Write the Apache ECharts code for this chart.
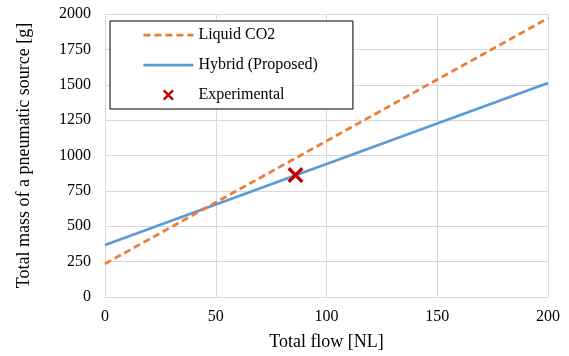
<!DOCTYPE html>
<html><head><meta charset="utf-8">
<script src="https://cdn.jsdelivr.net/npm/echarts@6/dist/echarts.min.js"></script>
<style>html,body{margin:0;padding:0;background:#fff}#c{width:569px;height:356px}</style>
</head><body><div id="c"></div>
<script>
var xTicks = [0, 50, 100, 150, 200];
var yTicks = [0, 250, 500, 750, 1000, 1250, 1500, 1750, 2000];
var liquidCO2 = [[0, 235], [200, 1970]];
var hybrid = [[0, 367], [200, 1512]];
var experimental = [[86, 862]];
var seriesNames = ['Liquid CO2', 'Hybrid (Proposed)', 'Experimental'];

var FONT = '"Liberation Serif", "Times New Roman", serif';
var xMark = 'path://M0,1.5 L1.5,0 L5,3.5 L8.5,0 L10,1.5 L6.5,5 L10,8.5 L8.5,10 L5,6.5 L1.5,10 L0,8.5 L3.5,5 Z';
var chart = echarts.init(document.getElementById('c'), null, {renderer: 'canvas'});
chart.setOption({
  animation: false,
  backgroundColor: '#fff',
  textStyle: {fontFamily: FONT, color: '#000'},
  grid: {left: 105, right: 21, top: 14, bottom: 59, containLabel: false},
  legend: {
    orient: 'vertical', left: 110, top: 21,
    backgroundColor: '#fff', borderColor: '#000', borderWidth: 1,
    padding: [6, 35, 6, 32], itemGap: 14, itemWidth: 50, itemHeight: 11,
    lineStyle: {width: 2.75},
    textStyle: {fontFamily: FONT, fontSize: 16, color: '#000'},
    data: [
      {name: seriesNames[0], itemStyle: {opacity: 0}},
      {name: seriesNames[1], itemStyle: {opacity: 0}},
      {name: seriesNames[2], icon: xMark, itemStyle: {opacity: 1}}
    ]
  },
  xAxis: {
    type: 'value', min: xTicks[0], max: xTicks[xTicks.length - 1], interval: 50,
    name: 'Total flow [NL]', nameLocation: 'middle', nameGap: 36,
    nameTextStyle: {fontFamily: FONT, fontSize: 18, color: '#000'},
    axisLine: {show: true, lineStyle: {color: '#d9d9d9', width: 1}},
    axisTick: {show: false},
    axisLabel: {fontFamily: FONT, fontSize: 16, color: '#000', margin: 12, formatter: function (v) { return String(v); }},
    splitLine: {show: true, lineStyle: {color: '#d9d9d9', width: 1}}
  },
  yAxis: {
    type: 'value', min: yTicks[0], max: yTicks[yTicks.length - 1], interval: 250,
    name: 'Total mass of a pneumatic source [g]', nameLocation: 'middle', nameGap: 72,
    nameTextStyle: {fontFamily: FONT, fontSize: 18, color: '#000'},
    axisLine: {show: true, lineStyle: {color: '#d9d9d9', width: 1}},
    axisTick: {show: false},
    axisLabel: {fontFamily: FONT, fontSize: 16, color: '#000', margin: 14, formatter: function (v) { return String(v); }},
    splitLine: {show: true, lineStyle: {color: '#d9d9d9', width: 1}}
  },
  series: [
    {name: seriesNames[0], type: 'line', data: liquidCO2, symbol: 'none', z: 3,
     lineStyle: {color: '#ed7d31', width: 2.75, type: [7, 4]}, itemStyle: {color: '#ed7d31'}},
    {name: seriesNames[1], type: 'line', data: hybrid, symbol: 'none', z: 2,
     lineStyle: {color: '#5b9bd5', width: 2.75}, itemStyle: {color: '#5b9bd5'}},
    {name: seriesNames[2], type: 'scatter', data: experimental, symbol: xMark, symbolSize: 16, z: 4,
     symbolKeepAspect: true, itemStyle: {color: '#c00000', opacity: 1}}
  ]
});
</script></body></html>
